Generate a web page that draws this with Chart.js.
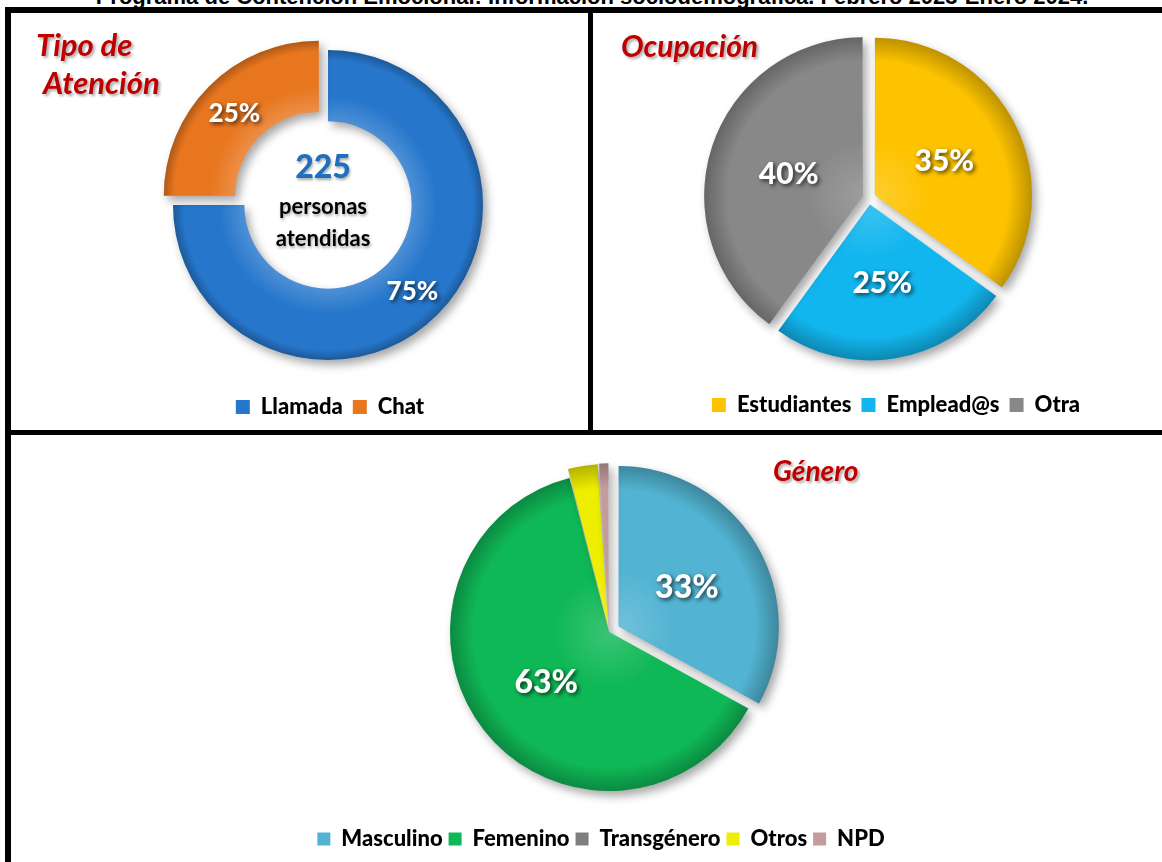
<!DOCTYPE html>
<html>
<head>
<meta charset="utf-8">
<script src="https://cdn.jsdelivr.net/npm/chart.js@4.4.0/dist/chart.umd.min.js"></script>
<style>
  body { margin: 0; width: 1162px; height: 862px; overflow: hidden; background: #fff; position: relative; }
  canvas { position: absolute; }
  .line { position: absolute; background: #000; z-index: 5; }
  .ttl { position: absolute; color: #c00000; font: italic 700 30px/30px Lato, sans-serif; white-space: nowrap;
         text-shadow: 2px 2px 3px rgba(0,0,0,0.35); z-index: 4; }
  #header { position: absolute; left: 0; width: 1184px; top: -14px; text-align: center; white-space: nowrap;
            font: 700 22px/22px "Liberation Sans", Arial, sans-serif; }
</style>
</head>
<body>
<div id="header">Programa de Contención Emocional: Información sociodemográfica. Febrero 2023-Enero 2024.</div>

<canvas id="tipo" width="634" height="417" style="left:11px;top:13px"></canvas>
<canvas id="ocupacion" width="550" height="430" style="left:594px;top:0px"></canvas>
<canvas id="genero" width="1196" height="426" style="left:11px;top:436px"></canvas>

<div class="ttl" style="left:36px;top:29px;font-size:31px;line-height:31px">Tipo de</div>
<div class="ttl" style="left:43px;top:67px;font-size:31px;line-height:31px">Atención</div>
<div class="ttl" style="left:621px;top:30px">Ocupación</div>
<div class="ttl" style="left:773px;top:456px;font-size:28px;line-height:28px">Género</div>

<!-- marcos -->
<div class="line" style="left:5px;top:7px;width:1157px;height:6px"></div>
<div class="line" style="left:5px;top:7px;width:6px;height:855px"></div>
<div class="line" style="left:588px;top:7px;width:5px;height:428px"></div>
<div class="line" style="left:5px;top:430px;width:1157px;height:5px"></div>

<script>
// Tipo de atención
var tipoLabels = ["Llamada", "Chat"];
var tipoValues = [75, 25];
var tipoColors = ["#2677cc", "#e8761f"];
var totalPersonas = 225;

// Ocupación
var ocupLabels = ["Estudiantes", "Emplead@s", "Otra"];
var ocupValues = [35, 25, 40];
var ocupColors = ["#fdc300", "#12b6ee", "#888888"];

// Género
var generoLabels = ["Masculino", "Femenino", "Transgénero", "Otros", "NPD"];
var generoValues = [33, 63, 0, 3, 1];
var generoColors = ["#52b4d2", "#0fb856", "#7f7f7f", "#eeee00", "#c49c9c"];

// sombra bajo las porciones
var sliceShadow = {
  id: "sliceShadow",
  beforeDatasetsDraw: function (chart) {
    var c = chart.ctx;
    c.save();
    c.shadowColor = "rgba(0,0,0,0.35)";
    c.shadowBlur = 10;
    c.shadowOffsetX = 4;
    c.shadowOffsetY = 5;
  },
  afterDatasetsDraw: function (chart) {
    chart.ctx.restore();
  },
};

// un poco de relieve en cada porcion
var sliceShade = {
  id: "sliceShade",
  afterDatasetsDraw: function (chart) {
    var c = chart.ctx;
    chart.getDatasetMeta(0).data.forEach(function (a) {
      if (!a.circumference) return;
      var mid = (a.startAngle + a.endAngle) / 2;
      var off = (a.options.offset || 0) / 4;
      var ro = off * (1 - Math.sin(Math.min(Math.PI, a.circumference)));
      var cx = a.x + Math.cos(mid) * off;
      var cy = a.y + Math.sin(mid) * off;
      var R = a.outerRadius + ro;
      var r0 = a.innerRadius > 0 ? a.innerRadius + ro : 0;
      c.save();
      c.beginPath();
      c.arc(cx, cy, R, a.startAngle, a.endAngle);
      if (r0 > 0) c.arc(cx, cy, r0, a.endAngle, a.startAngle, true);
      else c.lineTo(cx, cy);
      c.closePath();
      var g = c.createRadialGradient(cx, cy, r0, cx, cy, R);
      g.addColorStop(0, "rgba(255,255,255,0.18)");
      g.addColorStop(0.35, "rgba(255,255,255,0)");
      g.addColorStop(0.85, "rgba(0,0,0,0)");
      g.addColorStop(1, "rgba(0,0,0,0.25)");
      c.fillStyle = g;
      c.fill();
      c.restore();
    });
  },
};

// porcentajes dentro de las porciones
var sliceLabels = {
  id: "sliceLabels",
  afterDatasetsDraw: function (chart, args, opts) {
    var c = chart.ctx;
    var vals = chart.data.datasets[0].data;
    var total = vals.reduce(function (s, v) { return s + v; }, 0);
    c.save();
    c.font = "900 " + opts.size + "px Lato";
    c.fillStyle = "#fff";
    c.textAlign = "center";
    c.textBaseline = "middle";
    c.shadowColor = "rgba(0,0,0,0.7)";
    c.shadowBlur = 4;
    c.shadowOffsetX = 2;
    c.shadowOffsetY = 2;
    chart.getDatasetMeta(0).data.forEach(function (a, i) {
      var p = Math.round((vals[i] / total) * 100);
      if (p < 5) return;
      var mid = (a.startAngle + a.endAngle) / 2;
      var off = (a.options.offset || 0) / 4;
      var r = a.innerRadius > 0 ? (a.innerRadius + a.outerRadius) / 2 : a.outerRadius * opts.radius;
      c.fillText(p + "%", a.x + Math.cos(mid) * (r + off), a.y + Math.sin(mid) * (r + off) + 2);
    });
    c.restore();
  },
};

// texto del centro de la dona
var centerText = {
  id: "centerText",
  afterDatasetsDraw: function (chart) {
    var a = chart.getDatasetMeta(0).data[0];
    var c = chart.ctx;
    c.save();
    c.textAlign = "center";
    c.textBaseline = "middle";
    c.shadowColor = "rgba(0,0,0,0.35)";
    c.shadowBlur = 3;
    c.shadowOffsetX = 1;
    c.shadowOffsetY = 2;
    c.font = "900 32px Lato";
    c.fillStyle = "#1f6fc0";
    c.fillText(String(totalPersonas), a.x - 5, a.y - 37);
    c.font = "bold 22px Lato";
    c.fillStyle = "#000";
    c.fillText("personas", a.x - 5, a.y + 2);
    c.fillText("atendidas", a.x - 5, a.y + 34);
    c.restore();
  },
};

// mueve la leyenda sin mover el grafico
var legendShift = {
  id: "legendShift",
  afterLayout: function (chart, args, opts) {
    if (chart.legend && opts.dx) {
      chart.legend.left += opts.dx;
      chart.legend.right += opts.dx;
    }
  },
};

function legendOpts(box, pad) {
  return {
    position: "bottom",
    labels: {
      color: "#000",
      font: { family: "Lato", size: 22, weight: "900" },
      boxWidth: box,
      boxHeight: box,
      padding: pad,
    },
  };
}

new Chart(document.getElementById("tipo"), {
  type: "doughnut",
  data: {
    labels: tipoLabels,
    datasets: [{
      data: tipoValues,
      backgroundColor: tipoColors,
      borderWidth: 0,
      offset: [0, 52],
      radius: 155,
      cutout: "54%",
    }],
  },
  options: {
    responsive: false,
    animation: false,
    layout: { padding: { top: 11, bottom: 2 } },
    plugins: {
      legend: legendOpts(14, 10),
      tooltip: { enabled: false },
      legendShift: { dx: 2 },
      sliceLabels: { size: 26, radius: 0.5 },
    },
  },
  plugins: [sliceShadow, sliceShade, sliceLabels, centerText, legendShift],
});

new Chart(document.getElementById("ocupacion"), {
  type: "pie",
  data: {
    labels: ocupLabels,
    datasets: [{
      data: ocupValues,
      backgroundColor: ocupColors,
      borderWidth: 0,
      offset: 26,
      radius: 156,
    }],
  },
  options: {
    responsive: false,
    animation: false,
    layout: { padding: { top: 12, bottom: 4 } },
    plugins: {
      legend: legendOpts(14, 10),
      tooltip: { enabled: false },
      legendShift: { dx: 27 },
      sliceLabels: { size: 30, radius: 0.5 },
    },
  },
  plugins: [sliceShadow, sliceShade, sliceLabels, legendShift],
});

new Chart(document.getElementById("genero"), {
  type: "pie",
  data: {
    labels: generoLabels,
    datasets: [{
      data: generoValues,
      backgroundColor: generoColors,
      borderWidth: 0,
      offset: [44, 0, 0, 20, 20],
      radius: 159,
    }],
  },
  options: {
    responsive: false,
    animation: false,
    layout: { padding: { top: 6, bottom: 2 } },
    plugins: {
      legend: legendOpts(13, 6),
      tooltip: { enabled: false },
      legendShift: { dx: -8 },
      sliceLabels: { size: 32, radius: 0.5 },
    },
  },
  plugins: [sliceShadow, sliceShade, sliceLabels, legendShift],
});
</script>
</body>
</html>
